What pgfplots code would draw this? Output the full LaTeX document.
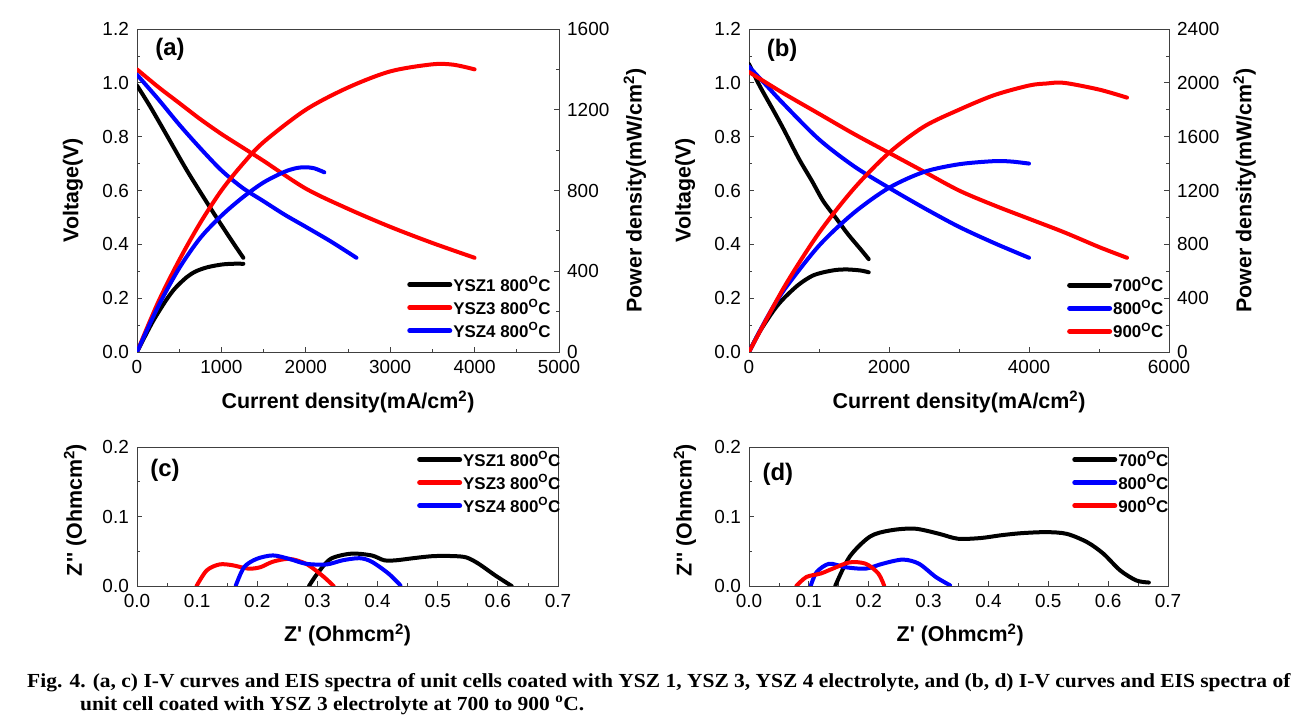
\documentclass[border=0pt]{standalone}
\usepackage{pgfplots}
\pgfplotsset{compat=1.18}
\usepackage{fontspec}
\setmainfont{Liberation Sans}
\newfontfamily\capfont{Liberation Serif}

\pgfplotsset{
  base/.style={
    scale only axis,
    axis line style={black!75, line width=0.9bp},
    tick align=inside,
    major tick length=5bp,
    minor tick length=3bp,
    tick style={black!75, line width=0.8bp},
    tick label style={font=\fontsize{19}{19}\selectfont, black},
    /pgf/number format/assume math mode=true,
    /pgf/number format/1000 sep={},
    xticklabel style={inner sep=0pt, yshift=-8bp},
    label style={font=\bfseries\fontsize{21.5}{21.5}\selectfont},
    legend style={draw=none, fill=none, inner sep=0pt, row sep=5bp,
      font=\bfseries\fontsize{17}{17}\selectfont, nodes={inner sep=1bp}},
    legend cell align=left,
    legend image code/.code={\draw[#1, line width=5bp] (0bp,0bp) -- (40bp,0bp);},
  },
  leftax/.style={yticklabel style={inner sep=0pt, xshift=-8bp}},
  rightax/.style={yticklabel style={inner sep=0pt, xshift=8bp}},
  curve/.style={line width=4bp, line join=round, line cap=round, no markers, smooth, tension=0.5},
}
\tikzset{panlab/.style={font=\bfseries\fontsize{24}{24}\selectfont, anchor=center}}

\newcommand{\sq}{\textquotesingle}

\begin{document}
\begin{tikzpicture}
\useasboundingbox (0,0) rectangle (1297bp,726bp);

% ================= (a) =================
\begin{axis}[base, leftax, at={(137bp,374bp)}, anchor=south west, width=422bp, height=323bp,
  xmin=0, xmax=5000, ymin=0, ymax=1.2,
  xtick={0,1000,2000,3000,4000,5000}, minor x tick num=1,
  ytick={0,0.2,0.4,0.6,0.8,1.0,1.2}, minor y tick num=1,
  xtick pos=left, ytick pos=left,
  yticklabel style={/pgf/number format/.cd, fixed, fixed zerofill, precision=1},
  xlabel={Current density(mA/cm\textsuperscript{2})},
  ylabel={Voltage(V)},
  xlabel style={at={(axis description cs:0.5,-0.155)}, anchor=center},
  ylabel style={at={(axis description cs:-0.152,0.5)}, anchor=center},
  legend style={at={(axis description cs:0.64,0.237)}, anchor=north west},
]
\addplot[curve, black] coordinates {(0,0.99) (150,0.915) (344,0.81) (600,0.67) (900,0.52) (1130,0.41) (1260,0.35)};
\addlegendentry{YSZ1 800\textsuperscript{O}C}
\addplot[curve, red] coordinates {(0,1.05) (250,0.985) (500,0.925) (750,0.865) (1000,0.81) (1250,0.76) (1500,0.71) (2000,0.607) (2500,0.532) (3000,0.465) (3500,0.405) (4000,0.35)};
\addlegendentry{YSZ3 800\textsuperscript{O}C}
\addplot[curve, blue] coordinates {(0,1.03) (250,0.94) (500,0.845) (750,0.757) (1000,0.675) (1250,0.61) (1500,0.56) (1750,0.51) (2000,0.465) (2300,0.41) (2600,0.35)};
\addlegendentry{YSZ4 800\textsuperscript{O}C}
\node[panlab] at (axis description cs:0.078,0.938) {(a)};
\end{axis}
\begin{axis}[base, rightax, at={(137bp,374bp)}, anchor=south west, width=422bp, height=323bp,
  xmin=0, xmax=5000, ymin=0, ymax=1600,
  axis x line=none, axis y line*=right,
  ytick={0,400,800,1200,1600}, minor y tick num=1,
  ylabel={Power density(mW/cm\textsuperscript{2})},
  ylabel style={at={(axis description cs:1.18,0.5)}, anchor=center},
]
\addplot[curve, black] coordinates {(0,0) (100,82) (200,160) (344,256) (450,315) (590,371) (700,400) (836,420) (1000,433) (1130,437) (1260,437)};
\addplot[curve, red] coordinates {(0,0) (250,246) (500,455) (750,640) (1000,800) (1250,930) (1500,1040) (2000,1200) (2500,1310) (3000,1390) (3500,1425) (3750,1423) (4000,1400)};
\addplot[curve, blue] coordinates {(0,0) (250,225) (500,415) (750,565) (1000,675) (1250,765) (1500,840) (1750,893) (1900,912) (2000,915) (2100,910) (2220,890)};
\end{axis}

% ================= (b) =================
\begin{axis}[base, leftax, at={(749bp,374bp)}, anchor=south west, width=420bp, height=323bp,
  xmin=0, xmax=6000, ymin=0, ymax=1.2,
  xtick={0,2000,4000,6000}, minor x tick num=1,
  ytick={0,0.2,0.4,0.6,0.8,1.0,1.2}, minor y tick num=1,
  xtick pos=left, ytick pos=left,
  yticklabel style={/pgf/number format/.cd, fixed, fixed zerofill, precision=1},
  xlabel={Current density(mA/cm\textsuperscript{2})},
  ylabel={Voltage(V)},
  xlabel style={at={(axis description cs:0.5,-0.155)}, anchor=center},
  ylabel style={at={(axis description cs:-0.152,0.5)}, anchor=center},
  legend style={at={(axis description cs:0.757,0.235)}, anchor=north west},
]
\addplot[curve, black] coordinates {(0,1.07) (150,0.99) (354,0.895) (500,0.825) (708,0.72) (900,0.635) (1062,0.56) (1250,0.495) (1416,0.437) (1600,0.38) (1710,0.345)};
\addlegendentry{700\textsuperscript{O}C}
\addplot[curve, blue] coordinates {(0,1.06) (250,0.99) (500,0.92) (1000,0.79) (1500,0.69) (2000,0.61) (2500,0.535) (3000,0.465) (3500,0.405) (4000,0.35)};
\addlegendentry{800\textsuperscript{O}C}
\addplot[curve, red] coordinates {(0,1.04) (500,0.96) (1000,0.885) (1500,0.81) (2000,0.74) (2500,0.67) (3000,0.60) (3500,0.545) (4000,0.495) (4500,0.445) (5000,0.39) (5400,0.35)};
\addlegendentry{900\textsuperscript{O}C}
\node[panlab] at (axis description cs:0.079,0.935) {(b)};
\end{axis}
\begin{axis}[base, rightax, at={(749bp,374bp)}, anchor=south west, width=420bp, height=323bp,
  xmin=0, xmax=6000, ymin=0, ymax=2400,
  axis x line=none, axis y line*=right,
  ytick={0,400,800,1200,1600,2000,2400}, minor y tick num=1,
  ylabel={Power density(mW/cm\textsuperscript{2})},
  ylabel style={at={(axis description cs:1.18,0.5)}, anchor=center},
]
\addplot[curve, black] coordinates {(0,0) (150,149) (354,310) (500,400) (708,500) (900,565) (1062,592) (1250,610) (1416,613) (1600,605) (1710,592)};
\addplot[curve, blue] coordinates {(0,0) (250,248) (500,460) (1000,790) (1500,1035) (2000,1220) (2500,1338) (3000,1395) (3500,1418) (3750,1415) (4000,1400)};
\addplot[curve, red] coordinates {(0,0) (500,480) (1000,885) (1500,1215) (2000,1480) (2500,1675) (3000,1800) (3500,1908) (4000,1980) (4250,1995) (4500,2000) (5000,1950) (5400,1890)};
\end{axis}

% ================= (c) =================
\begin{axis}[base, leftax, at={(137bp,140bp)}, anchor=south west, width=421bp, height=139bp,
  xmin=0, xmax=0.7, ymin=0, ymax=0.2,
  xtick={0,0.1,0.2,0.3,0.4,0.5,0.6,0.7}, minor x tick num=1,
  ytick={0,0.1,0.2}, minor y tick num=1,
  xtick pos=left, ytick pos=left,
  xticklabel style={/pgf/number format/.cd, fixed, fixed zerofill, precision=1},
  yticklabel style={/pgf/number format/.cd, fixed, fixed zerofill, precision=1},
  xlabel={Z\sq{} (Ohmcm\textsuperscript{2})},
  ylabel={Z\sq\sq{} (Ohmcm\textsuperscript{2})},
  xlabel style={at={(axis description cs:0.5,-0.353)}, anchor=center},
  ylabel style={at={(axis description cs:-0.147,0.547)}, anchor=center},
  legend style={at={(axis description cs:0.665,0.975)}, anchor=north west},
]
\addplot[curve, black] coordinates {(0.286,0) (0.300,0.018) (0.322,0.039) (0.356,0.0465) (0.390,0.044) (0.411,0.037) (0.431,0.037) (0.459,0.040) (0.493,0.043) (0.527,0.043) (0.548,0.041) (0.568,0.032) (0.596,0.015) (0.623,0)};
\addlegendentry{YSZ1 800\textsuperscript{O}C}
\addplot[curve, red] coordinates {(0.099,0) (0.116,0.0225) (0.137,0.031) (0.158,0.030) (0.185,0.025) (0.205,0.027) (0.226,0.035) (0.253,0.039) (0.281,0.032) (0.308,0.015) (0.327,0)};
\addlegendentry{YSZ3 800\textsuperscript{O}C}
\addplot[curve, blue] coordinates {(0.164,0) (0.178,0.027) (0.199,0.039) (0.226,0.044) (0.253,0.039) (0.281,0.032) (0.315,0.031) (0.342,0.037) (0.370,0.040) (0.390,0.035) (0.418,0.018) (0.438,0.001)};
\addlegendentry{YSZ4 800\textsuperscript{O}C}
\node[panlab] at (axis description cs:0.0665,0.835) {(c)};
\end{axis}

% ================= (d) =================
\begin{axis}[base, leftax, at={(749bp,140bp)}, anchor=south west, width=419bp, height=139bp,
  xmin=0, xmax=0.7, ymin=0, ymax=0.2,
  xtick={0,0.1,0.2,0.3,0.4,0.5,0.6,0.7}, minor x tick num=1,
  ytick={0,0.1,0.2}, minor y tick num=1,
  xtick pos=left, ytick pos=left,
  xticklabel style={/pgf/number format/.cd, fixed, fixed zerofill, precision=1},
  yticklabel style={/pgf/number format/.cd, fixed, fixed zerofill, precision=1},
  xlabel={Z\sq{} (Ohmcm\textsuperscript{2})},
  ylabel={Z\sq\sq{} (Ohmcm\textsuperscript{2})},
  xlabel style={at={(axis description cs:0.504,-0.353)}, anchor=center},
  ylabel style={at={(axis description cs:-0.153,0.547)}, anchor=center},
  legend style={at={(axis description cs:0.771,0.975)}, anchor=north west},
]
\addplot[curve, black] coordinates {(0.144,0) (0.168,0.042) (0.202,0.071) (0.236,0.080) (0.277,0.0825) (0.318,0.075) (0.349,0.068) (0.387,0.069) (0.421,0.073) (0.455,0.076) (0.497,0.0775) (0.531,0.075) (0.565,0.063) (0.592,0.0465) (0.620,0.0225) (0.647,0.008) (0.668,0.005)};
\addlegendentry{700\textsuperscript{O}C}
\addplot[curve, blue] coordinates {(0.103,0) (0.113,0.020) (0.134,0.032) (0.161,0.027) (0.195,0.025) (0.223,0.032) (0.257,0.038) (0.284,0.032) (0.312,0.013) (0.336,0.001)};
\addlegendentry{800\textsuperscript{O}C}
\addplot[curve, red] coordinates {(0.079,0) (0.096,0.013) (0.120,0.018) (0.140,0.025) (0.168,0.034) (0.195,0.032) (0.216,0.018) (0.226,0)};
\addlegendentry{900\textsuperscript{O}C}
\node[panlab] at (axis description cs:0.069,0.80) {(d)};
\end{axis}

% ================= caption =================
\node[anchor=base west, inner sep=0pt, font=\capfont\bfseries\fontsize{20}{23}\selectfont] at (27bp,39bp)
  {\scalebox{1.078}[1]{Fig. 4. (a, c) I-V curves and EIS spectra of unit cells coated with YSZ 1, YSZ 3, YSZ 4 electrolyte, and (b, d) I-V curves and EIS spectra of}};
\node[anchor=base west, inner sep=0pt, font=\capfont\bfseries\fontsize{20}{23}\selectfont] at (80bp,16bp)
  {\scalebox{1.078}[1]{unit cell coated with YSZ 3 electrolyte at 700 to 900 \textsuperscript{o}C.}};
\end{tikzpicture}
\end{document}
